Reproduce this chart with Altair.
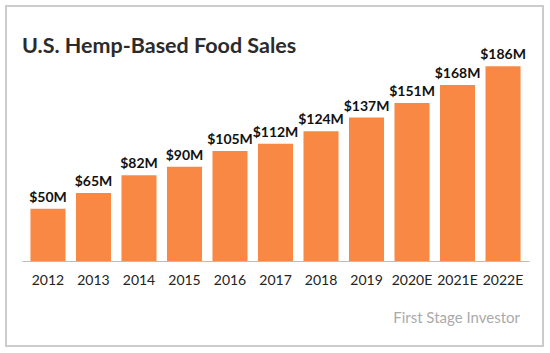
import altair as alt
import pandas as pd

years = ["2012", "2013", "2014", "2015", "2016", "2017", "2018", "2019", "2020E", "2021E", "2022E"]
sales = [50, 65, 82, 90, 105, 112, 124, 137, 151, 168, 186]
labels = [f"${v}M" for v in sales]
title_text = "U.S. Hemp-Based Food Sales"
source_text = "First Stage Investor"

df = pd.DataFrame({"year": years, "sales": sales, "label": labels})

FONT = "Lato"
ORANGE = "#FA8845"

x = alt.X("year:N", sort=years,
          scale=alt.Scale(paddingInner=0.23, paddingOuter=0.186),
          axis=alt.Axis(title=None, labelAngle=0, ticks=False, grid=False,
                        domainColor="#bbbbbb", domainWidth=1,
                        labelFont=FONT, labelFontSize=14, labelColor="#222222",
                        labelPadding=12))
y = alt.Y("sales:Q", scale=alt.Scale(domain=[0, 191], nice=False),
          axis=None)

bars = alt.Chart(df).mark_bar(color=ORANGE).encode(x=x, y=y)

text = alt.Chart(df).mark_text(font=FONT, fontSize=14, fontWeight="bold",
                               color="#111111", baseline="bottom", dy=-4).encode(
    x=alt.X("year:N", sort=years), y="sales:Q", text="label:N")

border = alt.Chart(df).mark_rect(fill=None, stroke="#cccccc", strokeWidth=1.2).encode(
    x=alt.value(-16), x2=alt.value(521), y=alt.value(-55), y2=alt.value(285))

title = alt.Chart(pd.DataFrame({"t": [title_text]})).mark_text(
    font=FONT, fontSize=21.5, fontWeight="bold", color="#2b2b2b",
    align="left", baseline="alphabetic").encode(
    x=alt.value(0), y=alt.value(-8), text="t:N")

watermark = alt.Chart(pd.DataFrame({"t": [source_text]})).mark_text(
    font=FONT, fontSize=15, color="#aaaaaa", align="right", baseline="alphabetic").encode(
    x=alt.value(498), y=alt.value(262), text="t:N")

chart = alt.layer(border, bars, text, title, watermark).properties(
    width=507, height=200,
    background="white",
    autosize=alt.AutoSizeParams(type="none"),
    padding={"left": 22, "top": 61, "right": 21, "bottom": 92},
).configure_view(stroke=None)

chart.save("out.html", embed_options={"renderer": "svg", "actions": False})
